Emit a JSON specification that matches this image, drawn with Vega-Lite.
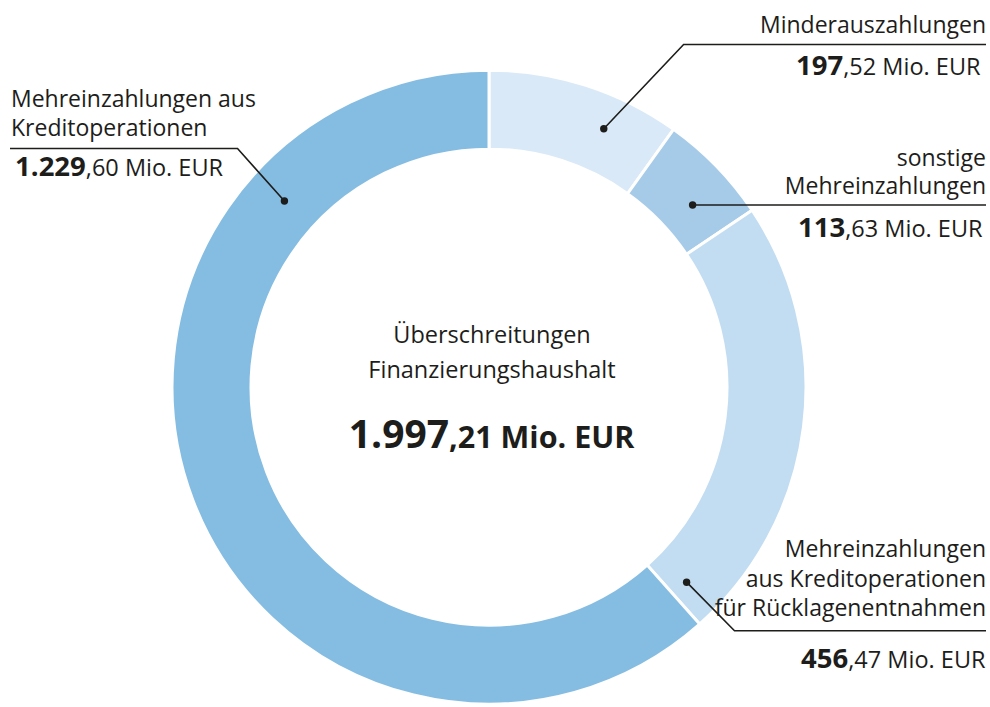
{
  "$schema": "https://vega.github.io/schema/vega-lite/v6.json",
  "width": 990,
  "height": 707,
  "autosize": {"type": "fit", "contains": "padding"},
  "padding": 0,
  "background": "white",
  "config": {"view": {"stroke": null}, "text": {"font": "Open Sans", "color": "#1d1d1b"}},
  "datasets": {
    "segments": [
      {"name": "Minderauszahlungen", "value": 197.52, "order": 1},
      {"name": "sonstige Mehreinzahlungen", "value": 113.63, "order": 2},
      {"name": "Mehreinzahlungen aus Kreditoperationen für Rücklagenentnahmen", "value": 456.47, "order": 3},
      {"name": "Mehreinzahlungen aus Kreditoperationen", "value": 1229.6, "order": 4}
    ],
    "leaders": [
      {"id": "min", "i": 0, "x": 605, "y": 130},
      {"id": "min", "i": 1, "x": 685, "y": 45},
      {"id": "min", "i": 2, "x": 988, "y": 45},
      {"id": "son", "i": 0, "x": 694, "y": 207},
      {"id": "son", "i": 1, "x": 988, "y": 207},
      {"id": "rue", "i": 0, "x": 688, "y": 588},
      {"id": "rue", "i": 1, "x": 736, "y": 637},
      {"id": "rue", "i": 2, "x": 988, "y": 637},
      {"id": "kre", "i": 0, "x": 285, "y": 203},
      {"id": "kre", "i": 1, "x": 238, "y": 150},
      {"id": "kre", "i": 2, "x": 10, "y": 150}
    ],
    "annotations": [
      {"kind": "name-right", "text": "Minderauszahlungen", "x": 988, "y": 33},
      {"kind": "name-right", "text": "sonstige", "x": 988, "y": 168},
      {"kind": "name-right", "text": "Mehreinzahlungen", "x": 988, "y": 196},
      {"kind": "name-right", "text": "Mehreinzahlungen", "x": 988, "y": 563},
      {"kind": "name-right", "text": "aus Kreditoperationen", "x": 988, "y": 593},
      {"kind": "name-right", "text": "für Rücklagenentnahmen", "x": 988, "y": 622},
      {"kind": "name-left", "text": "Mehreinzahlungen aus", "x": 11, "y": 108},
      {"kind": "name-left", "text": "Kreditoperationen", "x": 11, "y": 137},
      {"kind": "int", "text": "197", "x": 845, "y": 76},
      {"kind": "dec", "text": ",52 Mio. EUR", "x": 845, "y": 76},
      {"kind": "int", "text": "113", "x": 847, "y": 239},
      {"kind": "dec", "text": ",63 Mio. EUR", "x": 847, "y": 239},
      {"kind": "int", "text": "456", "x": 850, "y": 675},
      {"kind": "dec", "text": ",47 Mio. EUR", "x": 850, "y": 675},
      {"kind": "int", "text": "1.229", "x": 86, "y": 178},
      {"kind": "dec", "text": ",60 Mio. EUR", "x": 86, "y": 178},
      {"kind": "title", "text": "Überschreitungen", "x": 493, "y": 346},
      {"kind": "title", "text": "Finanzierungshaushalt", "x": 493, "y": 382},
      {"kind": "total-int", "text": "1.997", "x": 450, "y": 452},
      {"kind": "total-dec", "text": ",21 Mio. EUR", "x": 450, "y": 452}
    ]
  },
  "layer": [
    {
      "data": {"name": "segments"},
      "mark": {"type": "arc", "radius": 317, "radius2": 238, "stroke": "white", "strokeWidth": 3},
      "encoding": {
        "x": {"datum": 490, "type": "quantitative", "scale": {"domain": [0, 990], "nice": false, "zero": false}, "axis": null},
        "y": {"datum": 391, "type": "quantitative", "scale": {"domain": [0, 707], "nice": false, "zero": false, "reverse": true}, "axis": null},
        "theta": {"field": "value", "type": "quantitative", "stack": true},
        "order": {"field": "order", "type": "quantitative"},
        "color": {
          "field": "name", "type": "nominal", "legend": null,
          "scale": {
            "domain": ["Minderauszahlungen", "sonstige Mehreinzahlungen", "Mehreinzahlungen aus Kreditoperationen für Rücklagenentnahmen", "Mehreinzahlungen aus Kreditoperationen"],
            "range": ["#d9e9f7", "#a6cbe8", "#c2ddf2", "#85bde2"]
          }
        }
      }
    },
    {
      "data": {"name": "leaders"},
      "mark": {"type": "line", "color": "#1d1d1b", "strokeWidth": 1.6},
      "encoding": {
        "x": {"field": "x", "type": "quantitative"},
        "y": {"field": "y", "type": "quantitative"},
        "detail": {"field": "id"},
        "order": {"field": "i", "type": "quantitative"}
      }
    },
    {
      "data": {"name": "leaders"},
      "transform": [{"filter": "datum.i == 0"}],
      "mark": {"type": "point", "filled": true, "color": "#1d1d1b", "size": 55, "opacity": 1},
      "encoding": {
        "x": {"field": "x", "type": "quantitative"},
        "y": {"field": "y", "type": "quantitative"}
      }
    },
    {
      "data": {"name": "annotations"},
      "transform": [{"filter": "datum.kind == 'name-right'"}],
      "mark": {"type": "text", "align": "right", "baseline": "alphabetic", "fontSize": 23},
      "encoding": {
        "x": {"field": "x", "type": "quantitative"},
        "y": {"field": "y", "type": "quantitative"},
        "text": {"field": "text"}
      }
    },
    {
      "data": {"name": "annotations"},
      "transform": [{"filter": "datum.kind == 'name-left'"}],
      "mark": {"type": "text", "align": "left", "baseline": "alphabetic", "fontSize": 23},
      "encoding": {
        "x": {"field": "x", "type": "quantitative"},
        "y": {"field": "y", "type": "quantitative"},
        "text": {"field": "text"}
      }
    },
    {
      "data": {"name": "annotations"},
      "transform": [{"filter": "datum.kind == 'int'"}],
      "mark": {"type": "text", "align": "right", "baseline": "alphabetic", "fontSize": 27.5, "fontWeight": "bold"},
      "encoding": {
        "x": {"field": "x", "type": "quantitative"},
        "y": {"field": "y", "type": "quantitative"},
        "text": {"field": "text"}
      }
    },
    {
      "data": {"name": "annotations"},
      "transform": [{"filter": "datum.kind == 'dec'"}],
      "mark": {"type": "text", "align": "left", "baseline": "alphabetic", "fontSize": 23.5},
      "encoding": {
        "x": {"field": "x", "type": "quantitative"},
        "y": {"field": "y", "type": "quantitative"},
        "text": {"field": "text"}
      }
    },
    {
      "data": {"name": "annotations"},
      "transform": [{"filter": "datum.kind == 'title'"}],
      "mark": {"type": "text", "align": "center", "baseline": "alphabetic", "fontSize": 23.5},
      "encoding": {
        "x": {"field": "x", "type": "quantitative"},
        "y": {"field": "y", "type": "quantitative"},
        "text": {"field": "text"}
      }
    },
    {
      "data": {"name": "annotations"},
      "transform": [{"filter": "datum.kind == 'total-int'"}],
      "mark": {"type": "text", "align": "right", "baseline": "alphabetic", "fontSize": 39, "fontWeight": "bold"},
      "encoding": {
        "x": {"field": "x", "type": "quantitative"},
        "y": {"field": "y", "type": "quantitative"},
        "text": {"field": "text"}
      }
    },
    {
      "data": {"name": "annotations"},
      "transform": [{"filter": "datum.kind == 'total-dec'"}],
      "mark": {"type": "text", "align": "left", "baseline": "alphabetic", "fontSize": 30.5, "fontWeight": "bold"},
      "encoding": {
        "x": {"field": "x", "type": "quantitative"},
        "y": {"field": "y", "type": "quantitative"},
        "text": {"field": "text"}
      }
    }
  ]
}
